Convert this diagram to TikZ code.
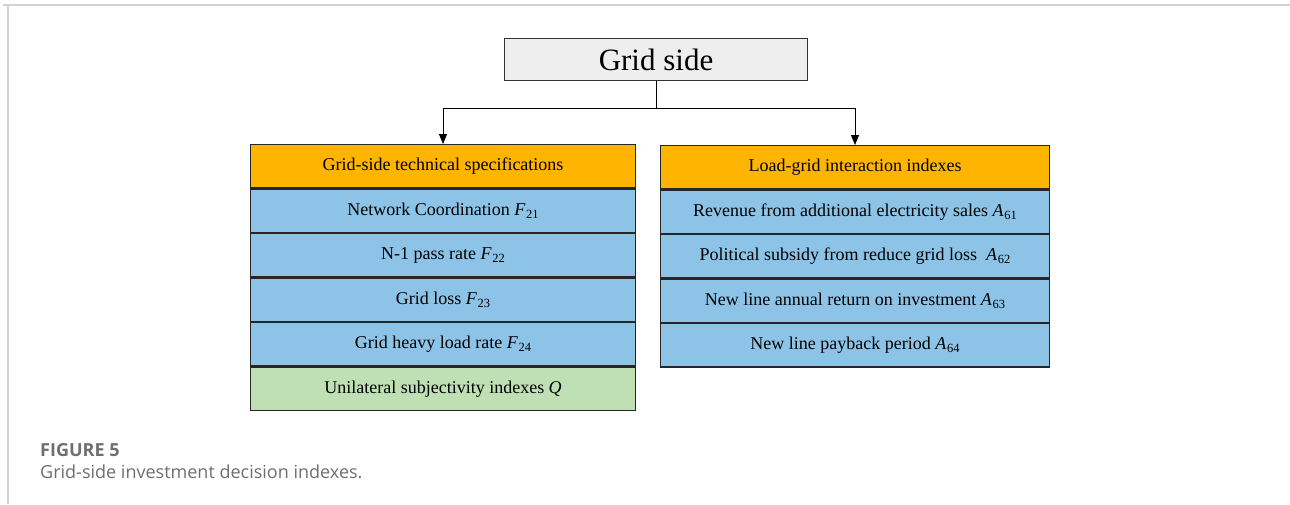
\documentclass[tikz,border=0pt]{standalone}
\usepackage{fontspec}
\setmainfont{Liberation Serif}
\newfontfamily\capfont{Open Sans}
\usetikzlibrary{arrows.meta}
\definecolor{hdr}{HTML}{FFB400}
\definecolor{blu}{HTML}{8CC3E6}
\definecolor{grn}{HTML}{BEE0B4}
\definecolor{topgray}{HTML}{EEEEEE}
\definecolor{capgray}{HTML}{6E6E6E}
\definecolor{framegray}{HTML}{D2D2D2}
\newcommand{\ix}[2]{\textit{#1}\kern0.04em\raisebox{-0.35ex}{\fontsize{12.5}{13}\selectfont #2}}
\begin{document}
\begin{tikzpicture}[x=1pt,y=-1pt,
  cell/.style={draw=black!85, line width=1.1pt, minimum height=43.4pt,
    inner sep=0pt, anchor=north, font=\fontsize{18}{21}\selectfont},
  lcell/.style={cell, minimum width=385pt},
  rcell/.style={cell, minimum width=389pt},
  hdrcell/.style={fill=hdr},
  blucell/.style={fill=blu},
  grncell/.style={fill=grn},
  topbox/.style={draw=black!80, line width=1pt, fill=topgray, minimum width=303pt,
    minimum height=42pt, inner sep=0pt, font=\fontsize{31}{34}\selectfont},
  conn/.style={line width=1pt, draw=black},
  arr/.style={conn, -{Triangle[length=10pt,width=8pt]}},
  captext/.style={anchor=base west, inner sep=0pt, text=capgray}
]
\useasboundingbox (0,0) rectangle (1290,504);
% frame
\draw[framegray, line width=1.5pt] (3,5) -- (1290,5);
\draw[framegray, line width=1.5pt] (8,5) -- (8,504);

\node[topbox] (top) at (656,59.5) {Grid side};

% left column
\node[lcell,hdrcell] (l0) at (443,144) {Grid-side technical specifications};
\node[lcell,blucell] (l1) at (l0.south) {Network Coordination \ix{F}{21}};
\node[lcell,blucell] (l2) at (l1.south) {N-1 pass rate \ix{F}{22}};
\node[lcell,blucell] (l3) at (l2.south) {Grid loss \ix{F}{23}};
\node[lcell,blucell] (l4) at (l3.south) {Grid heavy load rate \ix{F}{24}};
\node[lcell,grncell] (l5) at (l4.south) {Unilateral subjectivity indexes \textit{Q}};

% right column
\node[rcell,hdrcell] (r0) at (855,145) {Load-grid interaction indexes};
\node[rcell,blucell] (r1) at (r0.south) {Revenue from additional electricity sales \ix{A}{61}};
\node[rcell,blucell] (r2) at (r1.south) {Political subsidy from reduce grid loss\ \ \ix{A}{62}};
\node[rcell,blucell] (r3) at (r2.south) {New line annual return on investment \ix{A}{63}};
\node[rcell,blucell] (r4) at (r3.south) {New line payback period \ix{A}{64}};

% connectors
\coordinate (split) at (656,108);
\draw[conn] (top.south) -- (split);
\draw[arr] (split) -| (l0.north);
\draw[arr] (split) -| (r0.north);

% caption
\node[captext, font=\capfont\bfseries\fontsize{18}{21}\selectfont] (c1) at (40,456) {FIGURE 5};
\node[captext, font=\capfont\fontsize{18}{21}\selectfont] (c2) at (40,478) {Grid-side investment decision indexes.};
\end{tikzpicture}
\end{document}
